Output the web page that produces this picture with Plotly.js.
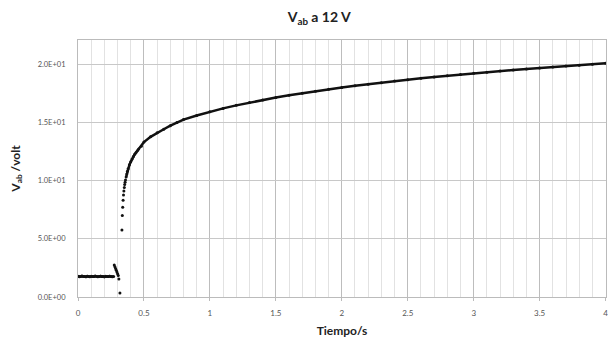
<!DOCTYPE html>
<html><head><meta charset="utf-8">
<script src="https://cdn.plot.ly/plotly-3.0.1.min.js"></script>
<style>html,body{margin:0;padding:0;background:#fff}#chart{width:608px;height:351px}</style>
</head><body><div id="chart"></div>
<script>
// Flat segment before switching
const tFlat = [0,0.01,0.02,0.03,0.04,0.05,0.06,0.07,0.08,0.09,0.10,0.11,0.12,0.13,0.14,0.15,0.16,0.17,0.18,0.19,0.20,0.21,0.22,0.23,0.24,0.25,0.26,0.27];
const vFlat = [1.78,1.74,1.76,1.80,1.75,1.77,1.73,1.79,1.76,1.74,1.78,1.76,1.75,1.80,1.77,1.74,1.76,1.79,1.75,1.77,1.73,1.78,1.76,1.75,1.79,1.76,1.74,1.77];
// Transient spike and sharp rise (sparse dots)
const tJump = [0.275,0.28,0.285,0.29,0.295,0.30,0.305,0.31,0.318,0.333,0.336,0.339,0.342,0.345,0.348,0.351,0.354,0.357,0.36];
const vJump = [2.75,2.6,2.45,2.3,2.15,2.0,1.85,1.55,0.35,5.75,7.0,7.7,8.3,8.75,9.1,9.4,9.65,9.85,10.05];
// Slow rise
const tRise = [0.365,0.37,0.375,0.38,0.39,0.40,0.41,0.42,0.43,0.44,0.45,0.46,0.48,0.50,0.55,0.60,0.65,0.70,0.75,0.8,0.9,1.0,1.1,1.2,1.3,1.4,1.5,1.6,1.7,1.8,1.9,2.0,2.1,2.2,2.3,2.4,2.5,2.6,2.7,2.8,2.9,3.0,3.1,3.2,3.3,3.4,3.5,3.6,3.7,3.8,3.9,4.0];
const vRise = [10.3,10.55,10.8,11.0,11.35,11.6,11.85,12.05,12.25,12.4,12.55,12.7,12.95,13.3,13.75,14.1,14.4,14.7,14.97,15.23,15.58,15.9,16.19,16.45,16.69,16.91,17.12,17.31,17.49,17.66,17.83,17.98,18.13,18.27,18.40,18.53,18.65,18.77,18.88,18.99,19.09,19.2,19.29,19.39,19.48,19.57,19.66,19.74,19.83,19.9,19.98,20.06];

const yTicks = [0,5,10,15,20];
const yTickText = ['0.0E+00','5.0E+00','1.0E+01','1.5E+01','2.0E+01'];
const xTicks = [0,0.5,1,1.5,2,2.5,3,3.5,4];
const xTickText = ['0','0.5','1','1.5','2','2.5','3','3.5','4'];

const FONT = 'Lato, "Open Sans", sans-serif';
const traces = [
  {x:tFlat,y:vFlat,mode:'lines+markers',line:{color:'#111',width:2.5},marker:{color:'#111',size:3},showlegend:false,hoverinfo:'skip'},
  {x:tJump,y:vJump,mode:'markers',marker:{color:'#111',size:3},showlegend:false,hoverinfo:'skip'},
  {x:tRise,y:vRise,mode:'lines+markers',line:{color:'#111',width:2.5},marker:{color:'#111',size:3},showlegend:false,hoverinfo:'skip'}
];
const layout = {
  width:608,height:351,
  margin:{l:78,r:2,t:40,b:54},
  paper_bgcolor:'#fff',plot_bgcolor:'#fff',
  font:{family:FONT,color:'#333'},
  title:{text:'<b>V<sub>ab</sub> a 12 V</b>',x:0.525,xanchor:'center',y:0.965,yanchor:'top',font:{size:14,color:'#222',family:FONT}},
  xaxis:{range:[0,4.003],tickvals:xTicks,ticktext:xTickText,showgrid:true,gridcolor:'#bdbdbd',gridwidth:1,
    minor:{dtick:0.1,showgrid:true,gridcolor:'#e2e2e2',gridwidth:1},
    tickfont:{size:8,color:'#555'},zeroline:false,showline:true,linecolor:'#bbb',mirror:true,
    ticks:'outside',ticklen:3,tickcolor:'#bbb',ticklabelstandoff:5,ticklabeloverflow:'allow',
    title:{text:'<b>Tiempo/s</b>',font:{size:12,color:'#222'},standoff:10}},
  yaxis:{range:[0,22.06],tickvals:yTicks,ticktext:yTickText,showgrid:true,gridcolor:'#c8c8c8',gridwidth:1,
    tickfont:{size:7.5,color:'#555'},zeroline:false,showline:true,linecolor:'#bbb',mirror:true,
    ticks:'',ticklen:0,ticklabelstandoff:10,
    title:{text:'<b>V<sub>ab</sub> /volt</b>',font:{size:12,color:'#222'},standoff:14}}
};
Plotly.newPlot('chart',traces,layout,{staticPlot:true,displayModeBar:false});
</script></body></html>
